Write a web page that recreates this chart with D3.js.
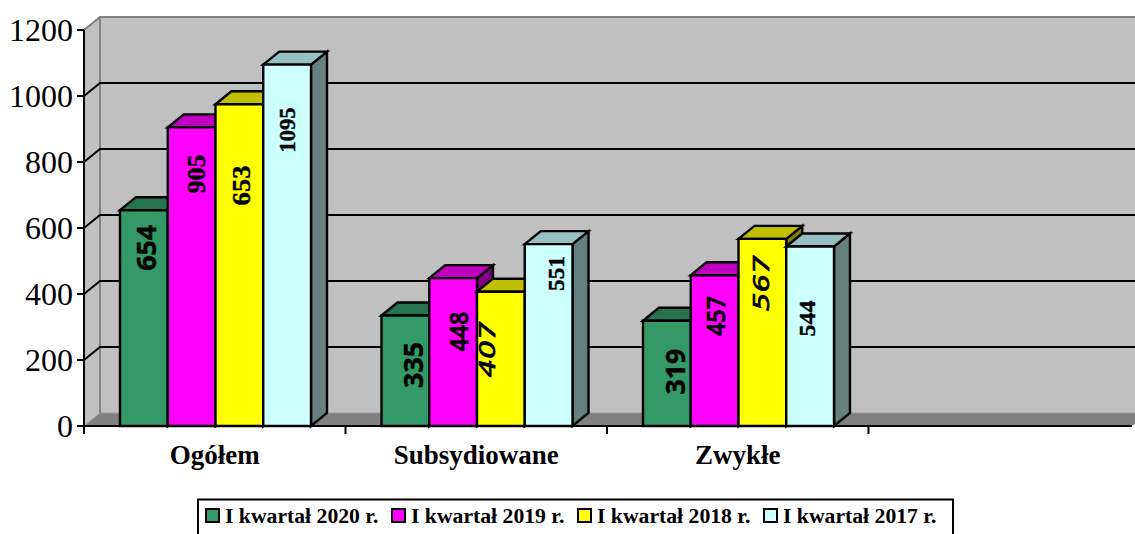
<!DOCTYPE html>
<html><head><meta charset="utf-8">
<script src="https://cdnjs.cloudflare.com/ajax/libs/d3/7.8.5/d3.min.js"></script>
<style>html,body{margin:0;padding:0;background:#fff;overflow:hidden}svg{display:block}</style>
</head><body><svg id="c" width="1135" height="534"></svg>
<script>
// ---- data ----
const categories = ["Ogółem", "Subsydiowane", "Zwykłe", ""];
const seriesNames = ["I kwartał 2020 r.", "I kwartał 2019 r.", "I kwartał 2018 r.", "I kwartał 2017 r."];
const v2020 = [654, 335, 319];
const v2019 = [905, 448, 457];
const v2018 = [975, 407, 567];
const v2017 = [1095, 551, 544];
const l2020 = ["654", "335", "319"];
const l2019 = ["905", "448", "457"];
const l2018 = ["653", "407", "567"];
const l2017 = ["1095", "551", "544"];
const yTicks = [0, 200, 400, 600, 800, 1000, 1200];

const seriesValues = [v2020, v2019, v2018, v2017];
const seriesLabels = [l2020, l2019, l2018, l2017];

// ---- styles ----
const front = ["#339966", "#ff00ff", "#ffff00", "#ccffff"];
const topC  = ["#267350", "#c000c0", "#c0c000", "#99c0c0"];
const sideC = ["#1a4d33", "#800080", "#808000", "#668080"];
const serif = "'Liberation Serif'", sans = "'Open Sans'", obl = "'DejaVu Sans'";
// label placement: [series][category] => {value-axis centre, px shift from bar centre, font, size, weight, style, length}
const labelStyle = [
 [{c:540,dx:2,f:sans,s:27,w:700,l:46},{c:185,dx:7,f:sans,s:27,w:700,l:46},{c:165,dx:8,f:sans,s:27,w:700,l:46}],
 [{c:764,dx:5,f:serif,s:26,w:700,l:39},{c:286,dx:5,f:sans,s:26,w:600,l:40},{c:333,dx:0,f:sans,s:26,w:600,l:40}],
 [{c:729,dx:2,f:serif,s:26,w:700,l:40},{c:232,dx:-13,f:obl,s:22,w:400,i:1,l:56},{c:433,dx:-1,f:obl,s:22,w:400,i:1,l:56}],
 [{c:897,dx:0,f:serif,s:23,w:700,l:45},{c:462,dx:7,f:serif,s:24,w:700,l:35},{c:326,dx:-3,f:serif,s:24,w:700,l:36}]
];

// ---- geometry ----
const W = 1135, H = 534;
const x0 = 84, x1 = 1130, depthX = 16, depthY = 13, axisEnd = 1132;
const y = d3.scaleLinear().domain([0, 1200]).range([426, 30]);
const xBand = d3.scaleBand().domain(categories).range([x0, x1]);
const xBar = d3.scaleBand().domain(d3.range(4)).range([36, 36 + 191]);
const svg = d3.select("#c");
const poly = (pts, fill, stroke, sw) => svg.append("polygon")
  .attr("points", pts.map(p => p.join(",")).join(" "))
  .attr("fill", fill).attr("stroke", stroke || "none").attr("stroke-width", sw || 0).attr("stroke-linejoin","miter");

// walls
const yB = y(0), yT = y(1200);
poly([[x0+depthX, yT-depthY],[axisEnd+depthX+2, yT-depthY],[axisEnd+depthX+2, yB-depthY],[x0+depthX, yB-depthY]], "#c0c0c0");
poly([[x0, yT],[x0+depthX, yT-depthY],[x0+depthX, yB-depthY],[x0, yB]], "#c0c0c0");
// floor
poly([[x0, yB],[x0+depthX, yB-depthY],[axisEnd+depthX+2, yB-depthY],[axisEnd, yB]], "#808080");
svg.append("line").attr("x1",x0+depthX).attr("x2",W).attr("y1",yB-depthY).attr("y2",yB-depthY).attr("stroke","#9a9a9a").attr("stroke-width",1);
svg.append("line").attr("x1",x0).attr("x2",x0+depthX).attr("y1",yB).attr("y2",yB-depthY).attr("stroke","#a0a0a0").attr("stroke-width",1);
// wall edges
svg.append("path").attr("d",`M${x0},${yT}L${x0+depthX},${yT-depthY}L${W},${yT-depthY}M${x0+depthX},${yT-depthY}V${yB-depthY}`)
  .attr("fill","none").attr("stroke","#808080").attr("stroke-width",2);

// gridlines
yTicks.filter(t => t > 0 && t < 1200).forEach(t => {
  svg.append("path").attr("d",`M${x0},${y(t)}L${x0+depthX},${y(t)-depthY}L${W},${y(t)-depthY}`)
    .attr("fill","none").attr("stroke","#000").attr("stroke-width",2);
});

// bars
categories.slice(0,3).forEach((cat, ci) => {
  seriesValues.forEach((vals, si) => {
    const l = xBand(cat) + xBar(si), r = l + xBar.bandwidth(), t = y(vals[ci]);
    poly([[r,t],[r+depthX,t-depthY],[r+depthX,yB-depthY],[r,yB]], sideC[si], "#000", 2.4);
    poly([[l,t],[l+depthX,t-depthY],[r+depthX,t-depthY],[r,t]], topC[si], "#000", 2.4);
    poly([[l,t],[r,t],[r,yB],[l,yB]], front[si], "#000", 2.4);
  });
});
// axes
const axisG = svg.append("g").attr("stroke","#000").attr("stroke-width",2);
axisG.append("line").attr("x1",x0).attr("x2",x0).attr("y1",yT).attr("y2",yB+8);
axisG.append("line").attr("x1",x0-7).attr("x2",axisEnd).attr("y1",yB).attr("y2",yB);
yTicks.forEach(t => axisG.append("line").attr("x1",x0-7).attr("x2",x0).attr("y1",y(t)).attr("y2",y(t)));
categories.slice(0,3).forEach(c => axisG.append("line").attr("x1",xBand(c)+xBand.bandwidth()).attr("x2",xBand(c)+xBand.bandwidth()).attr("y1",yB).attr("y2",yB+8));

// tick labels
const text = (x, yy, s, size, weight, anchor) => svg.append("text").attr("x",x).attr("y",yy).text(s)
  .attr("font-family",serif).attr("font-size",size).attr("font-weight",weight||400).attr("text-anchor",anchor||"start").attr("fill","#000");
yTicks.forEach(t => text(73, y(t)+11, t, 32, 400, "end"));
categories.slice(0,3).forEach(c => text(xBand(c)+xBand.bandwidth()/2, 464, c, 27, 700, "middle"));

// value labels
seriesLabels.forEach((labs, si) => labs.forEach((lab, ci) => {
  const st = labelStyle[si][ci];
  const cx = xBand(categories[ci]) + xBar(si) + xBar.bandwidth()/2 + st.dx;
  const cy = y(st.c);
  svg.append("text").text(lab)
    .attr("transform",`translate(${cx},${cy}) rotate(-90)`)
    .attr("text-anchor","middle").attr("dominant-baseline","central")
    .attr("font-family",st.f).attr("font-size",st.s).attr("font-weight",st.w).attr("font-style",st.i?"italic":"normal")
    .attr("textLength",st.l).attr("lengthAdjust","spacingAndGlyphs").attr("fill","#000")
    .attr("stroke","#000").attr("stroke-width",st.w < 700 ? 0.7 : 0.4);
}));

// legend
svg.append("rect").attr("x",198).attr("y",499.5).attr("width",755).attr("height",50).attr("fill","#fff").attr("stroke","#000").attr("stroke-width",2);
const legX = d3.scalePoint().domain(seriesNames).range([206, 764]);
seriesNames.forEach((n, i) => {
  const lx = legX(n);
  svg.append("rect").attr("x",lx).attr("y",509).attr("width",13).attr("height",13).attr("fill",front[i]).attr("stroke","#000").attr("stroke-width",2);
  text(lx+19, 523, n, 21.7, 700);
});
</script></body></html>
